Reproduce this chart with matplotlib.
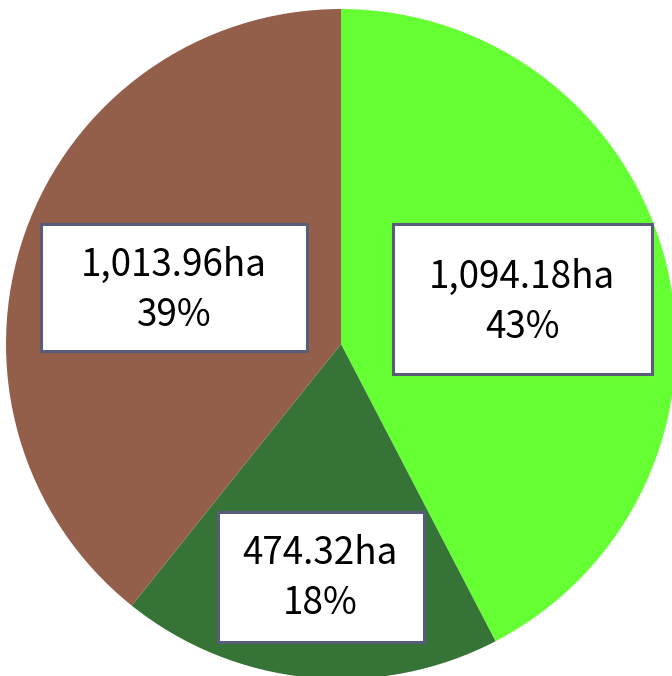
import matplotlib.pyplot as plt
from matplotlib.patches import Rectangle

# data (clockwise from 12 o'clock)
areas = [1094.18, 474.32, 1013.96]
pcts = [43, 18, 39]
colors = ['#66FF33', '#367336', '#935F4A']

# label box placement (pixel coords, y from bottom)
boxes = [(393, 302, 259, 150), (218, 34, 206, 130), (41, 325, 266, 127)]
line1_y = [399, 122, 411]
line2_y = [349, 73, 360]
text_x = [522, 320, 174]

plt.rcParams['font.family'] = ['Noto Sans CJK JP', 'DejaVu Sans']

fig = plt.figure(figsize=(6.72, 6.76), dpi=100)
ax = fig.add_axes([0, 0, 1, 1])
ax.pie(areas, colors=colors, startangle=90, counterclock=False,
       center=(341, 332), radius=335, frame=True,
       wedgeprops={'linewidth': 0})
ax.set_xlim(0, 672)
ax.set_ylim(0, 676)
ax.set_aspect('equal')
ax.axis('off')

for i in range(len(areas)):
    x0, y0, w, h = boxes[i]
    ax.add_patch(Rectangle((x0, y0), w, h, facecolor='white',
                           edgecolor='#575C7A', linewidth=2.2, zorder=3))
    ax.text(text_x[i], line1_y[i], f'{areas[i]:,.2f}ha', ha='center', va='center',
            fontsize=26.5, zorder=4)
    ax.text(text_x[i], line2_y[i], f'{pcts[i]}%', ha='center', va='center',
            fontsize=26.5, zorder=4)

fig.savefig('out.png', dpi=100)
